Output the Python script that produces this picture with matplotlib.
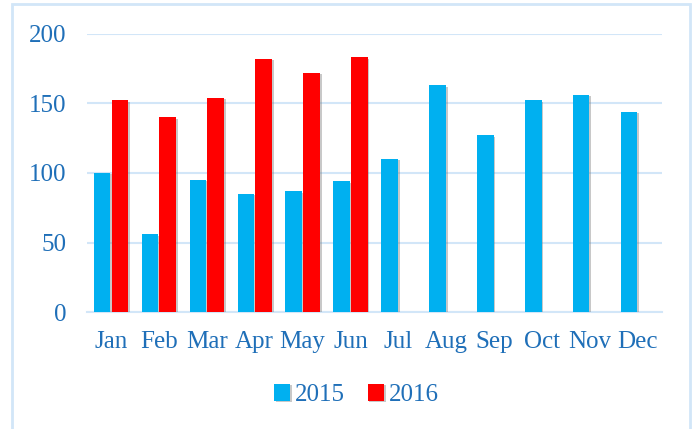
import matplotlib
matplotlib.use("Agg")
import matplotlib.pyplot as plt
import matplotlib.patheffects as pe
from matplotlib.patches import Rectangle
import numpy as np

# データ
months = ["Jan", "Feb", "Mar", "Apr", "May", "Jun",
          "Jul", "Aug", "Sep", "Oct", "Nov", "Dec"]
sales_2015 = [100, 56, 95, 85, 87, 94, 110, 163, 127, 152, 156, 144]
sales_2016 = [152, 140, 154, 182, 172, 183]
series_names = ["2015", "2016"]
yticks = [0, 50, 100, 150, 200]

# 色
c2015 = "#00B0F0"
c2016 = "#FF0000"
text_color = "#1F6FB8"
grid_color = "#D2E6F8"

plt.rcParams["font.family"] = ["Liberation Serif", "DejaVu Serif"]

fig = plt.figure(figsize=(6.96, 4.29), dpi=100)
ax = fig.add_axes([0.125, 0.2716, 0.826, 0.6503])

x = np.arange(len(months))
w = 0.345
shadow = [pe.SimplePatchShadow(offset=(1.3, -1.0), shadow_rgbFace="#777777", alpha=0.4), pe.Normal()]

b1 = ax.bar(x - 0.185, sales_2015, w, color=c2015, label=series_names[0], zorder=3)
b2 = ax.bar(x[:len(sales_2016)] + 0.185, sales_2016, w, color=c2016, label=series_names[1], zorder=3)
for b in list(b1) + list(b2):
    b.set_path_effects(shadow)

ax.set_xlim(-0.5, len(months) - 0.5)
ax.set_ylim(0, 200)
ax.set_yticks(yticks)
ax.set_xticks(x)
ax.set_xticklabels(months)
ax.yaxis.grid(True, color=grid_color, linewidth=1.5, zorder=0)
ax.set_axisbelow(True)
for s in ["top", "right", "left"]:
    ax.spines[s].set_visible(False)
ax.spines["bottom"].set_color(grid_color)
ax.spines["bottom"].set_linewidth(1.5)
ax.tick_params(axis="both", length=0, labelsize=18, colors=text_color)
ax.tick_params(axis="y", pad=15)
ax.tick_params(axis="x", pad=13)

leg = fig.legend(handles=[b1, b2], labels=series_names, loc="center",
                 bbox_to_anchor=(0.512, 0.079), ncol=2, frameon=False,
                 fontsize=18, handlelength=0.65, handleheight=0.65,
                 handletextpad=0.2, columnspacing=0.9)
for t in leg.get_texts():
    t.set_color(text_color)

# 外枠
fig.patches.append(Rectangle((12 / 696, -0.05), 678 / 696, 1.05 - 4 / 429,
                             transform=fig.transFigure, fill=False,
                             edgecolor=grid_color, linewidth=2))

fig.savefig("out.png", dpi=100)
